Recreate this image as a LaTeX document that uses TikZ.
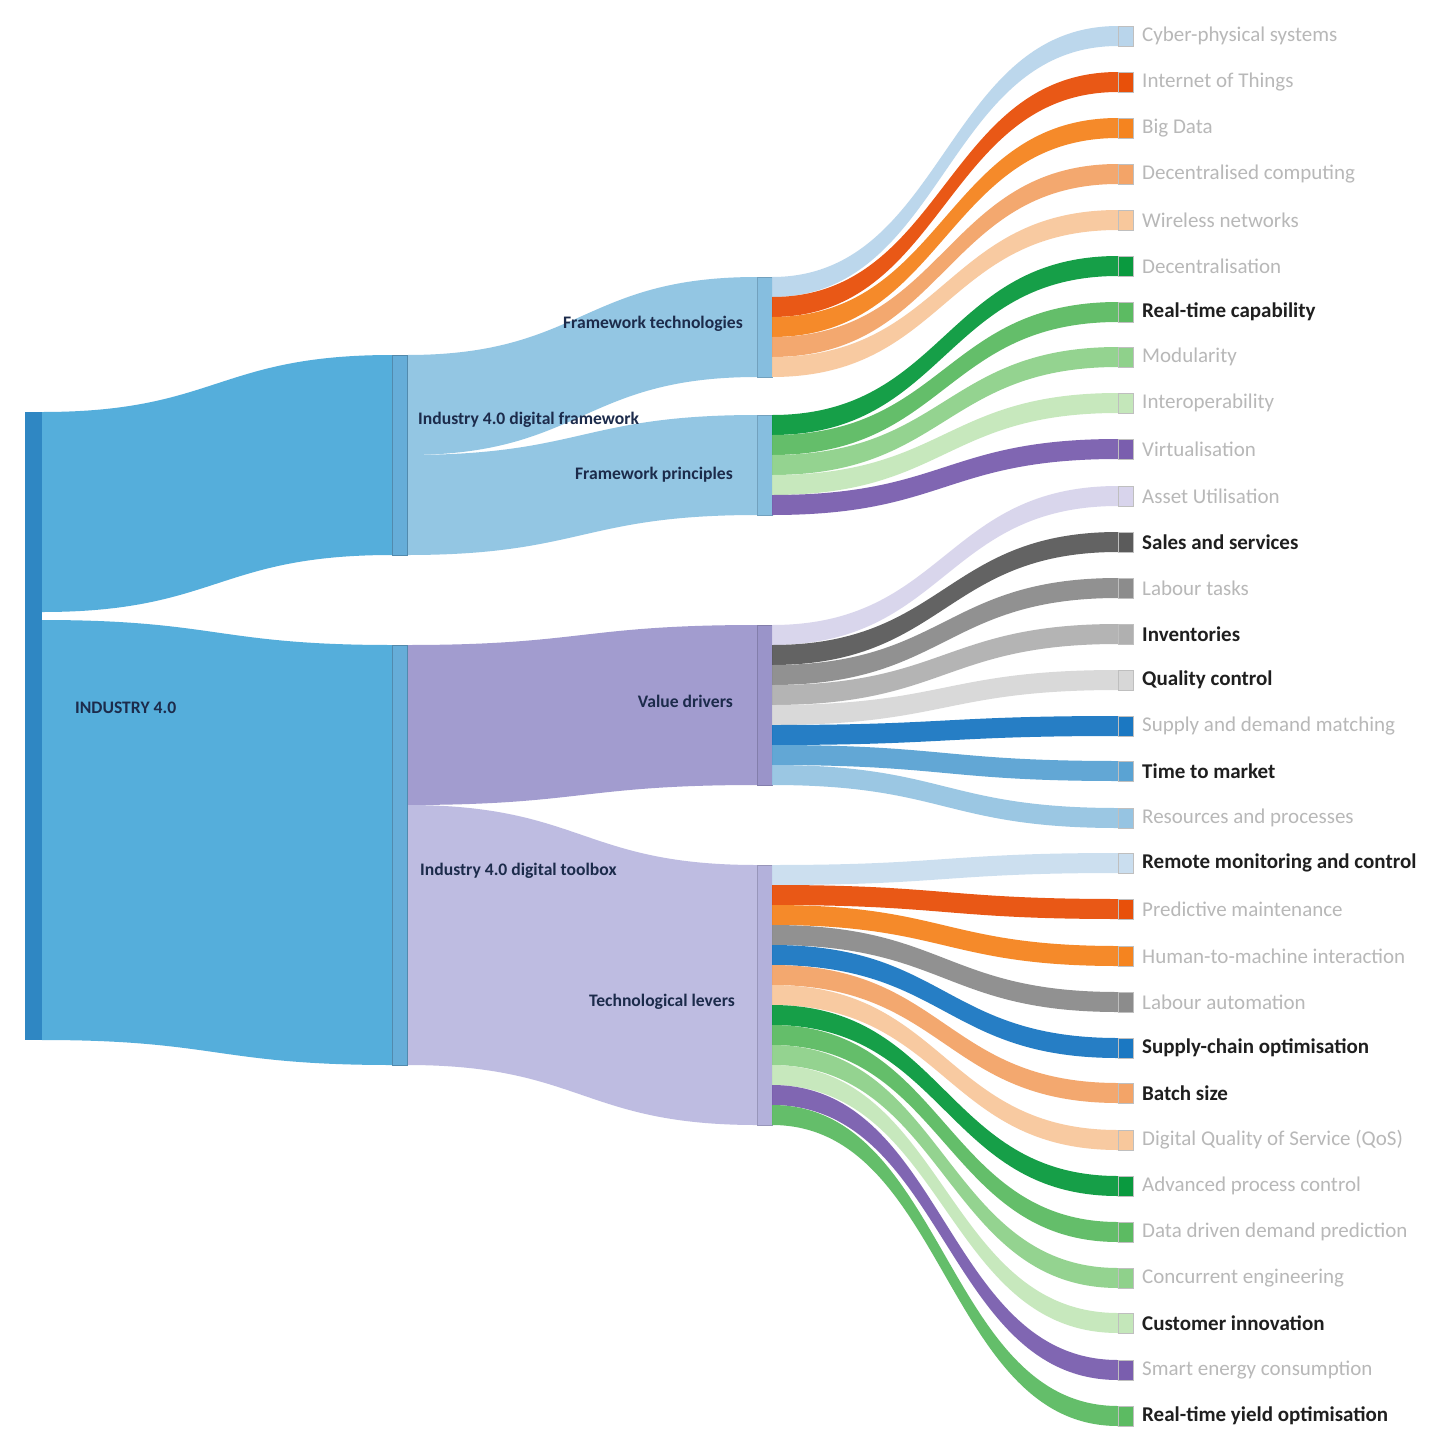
\documentclass[tikz,border=0pt]{standalone}
\usepackage{fontspec}
\setmainfont{Carlito}
\definecolor{indbar}{HTML}{2F87C3}
\definecolor{indflow}{HTML}{55AEDB}
\definecolor{lvlbar}{HTML}{66ADD8}
\definecolor{fwflow}{HTML}{93C6E3}
\definecolor{fwbar}{HTML}{86BEDF}
\definecolor{vdflow}{HTML}{A29CCF}
\definecolor{vdbar}{HTML}{9A94C9}
\definecolor{tlflow}{HTML}{BEBCE1}
\definecolor{tlbar}{HTML}{B3B1DB}
\definecolor{navy}{HTML}{1C2B4B}
\definecolor{cps}{HTML}{B9D5EB}
\definecolor{iot}{HTML}{E8500A}
\definecolor{bigd}{HTML}{F5841F}
\definecolor{dcomp}{HTML}{F3A468}
\definecolor{wire}{HTML}{F8C89C}
\definecolor{dgreen}{HTML}{0A9A3F}
\definecolor{mgreen}{HTML}{5CBB62}
\definecolor{lgreen}{HTML}{8FD18B}
\definecolor{pgreen}{HTML}{C4E7BA}
\definecolor{purp}{HTML}{7A5EAE}
\definecolor{lav}{HTML}{D8D4EC}
\definecolor{dgrey}{HTML}{5B5B5B}
\definecolor{mgrey}{HTML}{8C8C8C}
\definecolor{lgrey}{HTML}{B0B0B0}
\definecolor{pgrey}{HTML}{D7D7D7}
\definecolor{sblue}{HTML}{1B78C2}
\definecolor{mblue}{HTML}{5AA3D3}
\definecolor{lblue}{HTML}{96C4E2}
\definecolor{rmcol}{HTML}{CADEEF}
\tikzset{
  barnode/.style={inner sep=0, minimum width=15},
  midlabel/.style={font=\bfseries\fontsize{17.6}{20}\selectfont, text=navy, inner sep=0},
  leafbox/.style={inner sep=0, minimum width=15, minimum height=20, draw=black!25, line width=0.6},
  leafdark/.style={font=\bfseries\fontsize{21}{24}\selectfont, text=black!88, inner sep=0},
  leaflight/.style={font=\fontsize{21}{24}\selectfont, text=black!28, inner sep=0}
}
% flow: x0, top0, bot0, x1, top1, bot1, colour
\newcommand\flow[7]{\fill[#7] (#1,#2) .. controls ({(#1+#4)/2},#2) and ({(#1+#4)/2},#5) .. (#4,#5) -- (#4,#6) .. controls ({(#1+#4)/2},#6) and ({(#1+#4)/2},#3) .. (#1,#3) -- cycle;}
% leaf: name, source top, target centre, colour, label, label style
\newcommand\leaf[6]{%
  \fill[#4, fill opacity=0.95] (772,#2) .. controls (945,#2) and (945,#3-10) .. (1118,#3-10) -- (1118,#3+10) .. controls (945,#3+10) and (945,#2+20) .. (772,#2+20) -- cycle;
  \node[leafbox, fill=#4] (#1) at (1125.5,#3) {};
  \node[#6, anchor=west] (#1-t) at (1142,#3) {#5};
}
\begin{document}
\begin{tikzpicture}[x=1pt,y=-1pt]
\useasboundingbox (0,0) rectangle (1446,1440);
\fill[white] (0,0) rectangle (1446,1440);
% level 0 -> 1
\flow{42}{412}{612}{392}{355}{555}{indflow}
\flow{42}{620}{1040}{392}{645}{1065}{indflow}
% level 1 -> 2
\flow{407}{355}{455}{757}{277}{377}{fwflow}
\flow{407}{455}{555}{757}{415}{515}{fwflow}
\flow{407}{645}{805}{757}{625}{785}{vdflow}
\flow{407}{805}{1065}{757}{865}{1125}{tlflow}
% bars
\node[barnode, fill=indbar, minimum width=17, minimum height=628] (ind) at (33.5,726) {};
\node[barnode, fill=lvlbar, minimum height=200, draw=lvlbar!80!black, line width=0.5] (fw) at (399.5,455) {};
\node[barnode, fill=lvlbar, minimum height=420, draw=lvlbar!80!black, line width=0.5] (tb) at (399.5,855) {};
\node[barnode, fill=fwbar, minimum height=100, draw=fwbar!85!black, line width=0.5] (ft) at (764.5,327) {};
\node[barnode, fill=fwbar, minimum height=100, draw=fwbar!85!black, line width=0.5] (fp) at (764.5,465) {};
\node[barnode, fill=vdbar, minimum height=160, draw=vdbar!85!black, line width=0.5] (vd) at (764.5,705) {};
\node[barnode, fill=tlbar, minimum height=260, draw=tlbar!85!black, line width=0.5] (tl) at (764.5,995) {};
% leaves
\leaf{cps}{277}{36}{cps}{Cyber-physical systems}{leaflight}
\leaf{iot}{297}{82}{iot}{Internet of Things}{leaflight}
\leaf{bd}{317}{128}{bigd}{Big Data}{leaflight}
\leaf{dc}{337}{174}{dcomp}{Decentralised computing}{leaflight}
\leaf{wn}{357}{220}{wire}{Wireless networks}{leaflight}
\leaf{dec}{415}{266}{dgreen}{Decentralisation}{leaflight}
\leaf{rtc}{435}{312}{mgreen}{Real-time capability}{leafdark}
\leaf{mod}{455}{357}{lgreen}{Modularity}{leaflight}
\leaf{int}{475}{403}{pgreen}{Interoperability}{leaflight}
\leaf{vir}{495}{449}{purp}{Virtualisation}{leaflight}
\leaf{au}{625}{496}{lav}{Asset Utilisation}{leaflight}
\leaf{ss}{645}{542}{dgrey}{Sales and services}{leafdark}
\leaf{lt}{665}{588}{mgrey}{Labour tasks}{leaflight}
\leaf{inv}{685}{634}{lgrey}{Inventories}{leafdark}
\leaf{qc}{705}{680}{pgrey}{Quality control}{leafdark}
\leaf{sdm}{725}{726}{sblue}{Supply and demand matching}{leaflight}
\leaf{ttm}{745}{771}{mblue}{Time to market}{leafdark}
\leaf{rp}{765}{818}{lblue}{Resources and processes}{leaflight}
\leaf{rmc}{865}{863}{rmcol}{Remote monitoring and control}{leafdark}
\leaf{pm}{885}{909}{iot}{Predictive maintenance}{leaflight}
\leaf{hmi}{905}{956}{bigd}{Human-to-machine interaction}{leaflight}
\leaf{la}{925}{1002}{mgrey}{Labour automation}{leaflight}
\leaf{sco}{945}{1048}{sblue}{Supply-chain optimisation}{leafdark}
\leaf{bs}{965}{1093}{dcomp}{Batch size}{leafdark}
\leaf{qos}{985}{1140}{wire}{Digital Quality of Service (QoS)}{leaflight}
\leaf{apc}{1005}{1186}{dgreen}{Advanced process control}{leaflight}
\leaf{ddp}{1025}{1232}{mgreen}{Data driven demand prediction}{leaflight}
\leaf{ce}{1045}{1278}{lgreen}{Concurrent engineering}{leaflight}
\leaf{ci}{1065}{1323}{pgreen}{Customer innovation}{leafdark}
\leaf{sec}{1085}{1370}{purp}{Smart energy consumption}{leaflight}
\leaf{rty}{1105}{1416}{mgreen}{Real-time yield optimisation}{leafdark}
% labels
\node[midlabel, anchor=west] (l-ind) at (75,708) {INDUSTRY 4.0};
\node[midlabel, anchor=west] (l-fw) at (418,420) {Industry 4.0 digital framework};
\node[midlabel, anchor=west] (l-tb) at (420,871) {Industry 4.0 digital toolbox};
\node[midlabel, anchor=east] (l-ft) at (743,324) {Framework technologies};
\node[midlabel, anchor=east] (l-fp) at (733,475) {Framework principles};
\node[midlabel, anchor=east] (l-vd) at (733,701) {Value drivers};
\node[midlabel, anchor=east] (l-tl) at (735,1002) {Technological levers};
\end{tikzpicture}
\end{document}
